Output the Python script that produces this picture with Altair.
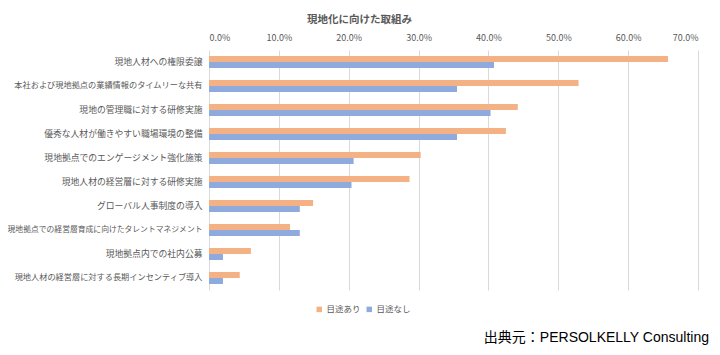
import altair as alt
import pandas as pd

categories = [
    "現地人材への権限委譲",
    "本社および現地拠点の業績情報のタイムリーな共有",
    "現地の管理職に対する研修実施",
    "優秀な人材が働きやすい職場環境の整備",
    "現地拠点でのエンゲージメント強化施策",
    "現地人材の経営層に対する研修実施",
    "グローバル人事制度の導入",
    "現地拠点での経営層育成に向けたタレントマネジメント",
    "現地拠点内での社内公募",
    "現地人材の経営層に対する長期インセンティブ導入",
]
series_names = ["目途あり", "目途なし"]
yes_values = [0.657, 0.529, 0.442, 0.425, 0.303, 0.287, 0.149, 0.116, 0.060, 0.044]
no_values = [0.408, 0.355, 0.403, 0.355, 0.207, 0.204, 0.130, 0.130, 0.020, 0.020]
tick_values = [0.0, 0.1, 0.2, 0.3, 0.4, 0.5, 0.6, 0.7]
title_text = "現地化に向けた取組み"
source_text = ["出典元：PERSOLKELLY Consulting"]

rows = []
for c, y, n in zip(categories, yes_values, no_values):
    rows.append({"category": c, "series": series_names[0], "value": y})
    rows.append({"category": c, "series": series_names[1], "value": n})
df = pd.DataFrame(rows)

FONT = "Noto Sans CJK JP"
GRAY = "#595959"

bars = alt.Chart(df).mark_bar().encode(
    y=alt.Y(
        "category:N",
        sort=categories,
        scale=alt.Scale(paddingInner=0.5, paddingOuter=0.25),
        axis=alt.Axis(
            title=None, ticks=False, domain=False, grid=False,
            labelFont=FONT, labelColor=GRAY,
            labelFontSize=alt.ExprRef(
                "length(datum.label) >= 24 ? 7.8 : (length(datum.label) >= 22 ? 8.2 : 8.8)"
            ),
            labelPadding=7, labelLimit=400,
        ),
    ),
    x=alt.X(
        "value:Q",
        scale=alt.Scale(domain=[0, 0.7]),
        axis=alt.Axis(
            orient="top", format=".1%", values=tick_values, title=None,
            domain=False, ticks=False, grid=True, gridColor="#D9D9D9",
            labelFont=FONT, labelColor=GRAY, labelFontSize=9, labelPadding=8,
        ),
    ),
    yOffset=alt.YOffset("series:N", sort=series_names),
    color=alt.Color(
        "series:N",
        sort=series_names,
        scale=alt.Scale(domain=series_names, range=["#F4B183", "#8FAADC"]),
        legend=alt.Legend(
            orient="none", legendX=106, legendY=255, direction="horizontal",
            title=None, symbolType="square", symbolSize=30, symbolStrokeWidth=0,
            labelFont=FONT, labelFontSize=8.5, labelColor=GRAY, columnPadding=4,
            labelOffset=3,
        ),
    ),
)

source = alt.Chart(pd.DataFrame({"t": source_text})).mark_text(
    align="right", baseline="middle", fontSize=14,
    font="Liberation Sans, Noto Sans CJK JP", color="black",
).encode(x=alt.value(500), y=alt.value(288), text="t:N")

chart = alt.layer(bars, source).properties(
    width=489,
    height=240,
    padding={"left": 201, "top": 42, "right": 14, "bottom": 57},
    autosize=alt.AutoSizeParams(type="none"),
    title=alt.TitleParams(
        title_text, anchor="middle", frame="group", dx=-94,
        font=FONT, fontSize=10.5, fontWeight="bold", color=GRAY, offset=8,
    ),
).configure_view(strokeWidth=0)

chart.save("out.html", embed_options={"renderer": "svg", "actions": False})
